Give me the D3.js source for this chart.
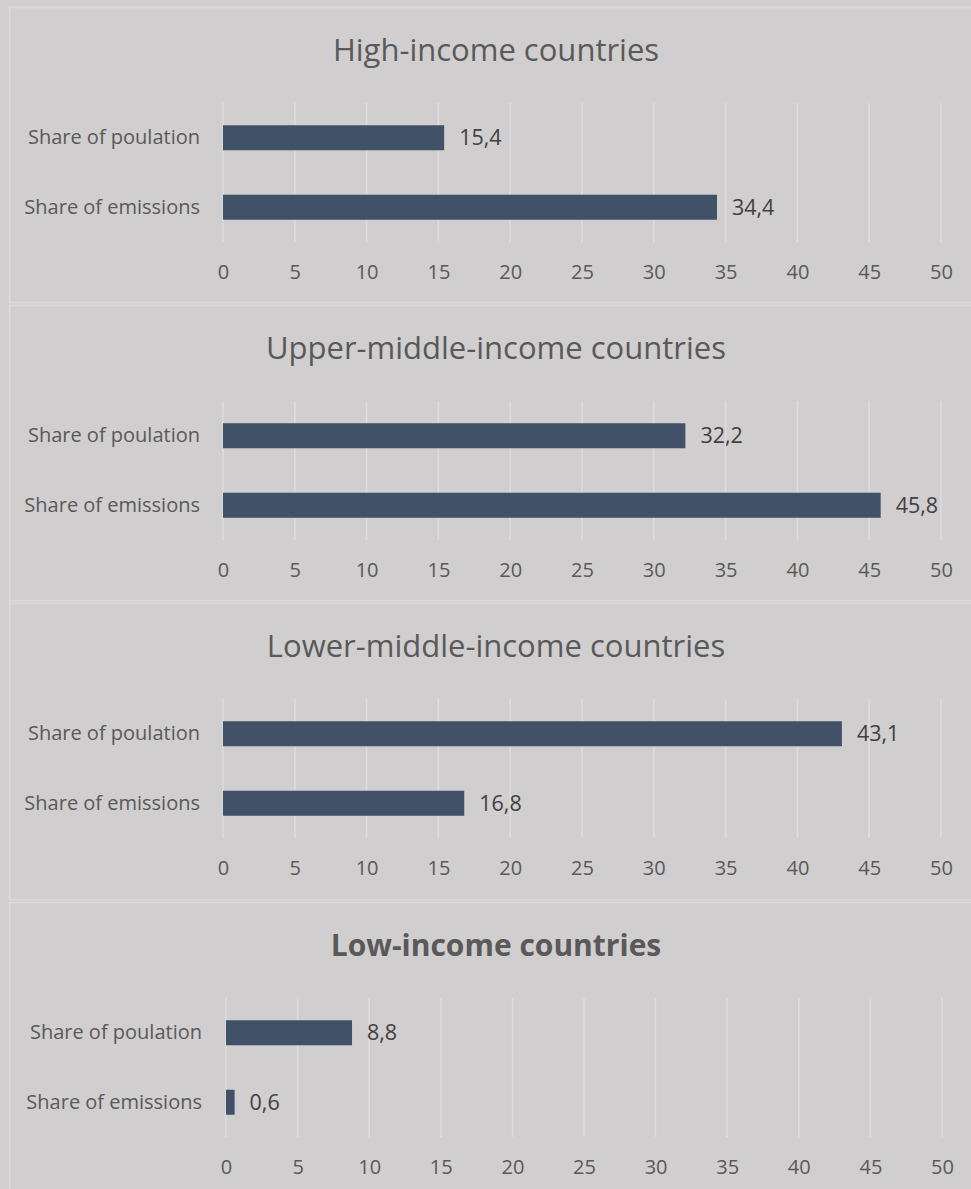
<!DOCTYPE html>
<html>
<head>
<meta charset="utf-8">
<script src="https://cdn.jsdelivr.net/npm/d3@7"></script>
<style>
  html, body { margin: 0; padding: 0; background: #d0cece; }
  svg { display: block; font-family: "Open Sans", "Noto Sans", sans-serif; }
</style>
</head>
<body>
<div id="graphic"></div>
<script>
// Data
var panelTitles = [
  'High-income countries',
  'Upper-middle-income countries',
  'Lower-middle-income countries',
  'Low-income countries'
];
var categories = ['Share of poulation', 'Share of emissions'];
var populationShare = [15.4, 32.2, 43.1, 8.8];
var emissionsShare = [34.4, 45.8, 16.8, 0.6];
var tickValues = [0, 5, 10, 15, 20, 25, 30, 35, 40, 45, 50];

var WIDTH = 971;
var HEIGHT = 1189;
var FONT = '"Open Sans", "Noto Sans", sans-serif';

var formatValue = function (v) {
  return d3.format('.1f')(v).replace('.', ',');
};

var renderGraphic = function (config) {
  var svg = d3.select(config.container)
    .append('svg')
    .attr('width', WIDTH)
    .attr('height', HEIGHT);

  svg.append('rect')
    .attr('width', WIDTH)
    .attr('height', HEIGHT)
    .attr('fill', '#d0cece');

  var panelTops = [7, 305, 603, 902];
  var panelBottoms = [302, 600.5, 899, 1200];

  panelTitles.forEach(function (title, i) {
    var top = panelTops[i];
    var isLast = i === panelTitles.length - 1;
    var g = svg.append('g');

    // panel border
    g.append('rect')
      .attr('x', 9.5)
      .attr('y', top + 0.5)
      .attr('width', 980)
      .attr('height', panelBottoms[i] - top)
      .attr('fill', 'none')
      .attr('stroke', '#dcdada')
      .attr('stroke-width', 1.5);

    var x = d3.scaleLinear()
      .domain([0, 50])
      .range(isLast ? [226, 942] : [223, 941]);

    var y = d3.scaleBand()
      .domain(categories)
      .range([top + 96, top + 235])
      .paddingInner(0.64)
      .paddingOuter(0.32);

    // title
    g.append('text')
      .attr('x', 496)
      .attr('y', top + 43)
      .attr('dy', '0.35em')
      .attr('text-anchor', 'middle')
      .attr('fill', '#595959')
      .attr('font-size', isLast ? 30 : 31)
      .attr('font-weight', isLast ? 'bold' : 'normal')
      .text(title);

    // gridlines
    g.selectAll('.grid')
      .data(tickValues)
      .enter().append('line')
      .attr('x1', function (d) { return x(d); })
      .attr('x2', function (d) { return x(d); })
      .attr('y1', top + 96)
      .attr('y2', top + 235)
      .attr('stroke', '#dedcdc')
      .attr('stroke-width', 1.5);

    // x axis
    var axis = g.append('g')
      .attr('transform', 'translate(0,' + (top + 265) + ')')
      .call(d3.axisBottom(x).tickValues(tickValues).tickSize(0).tickPadding(0));
    axis.select('.domain').remove();
    axis.selectAll('text')
      .attr('dy', '0.35em')
      .attr('fill', '#595959')
      .attr('font-size', 20)
      .attr('font-family', FONT);

    // y labels
    var yAxis = g.append('g')
      .attr('transform', 'translate(' + (isLast ? 202 : 200) + ',0)')
      .call(d3.axisLeft(y).tickSize(0).tickPadding(0));
    yAxis.select('.domain').remove();
    yAxis.selectAll('text')
      .attr('fill', '#595959')
      .attr('font-size', 20)
      .attr('font-family', FONT);

    var rows = [
      { cat: categories[0], value: populationShare[i] },
      { cat: categories[1], value: emissionsShare[i] }
    ];

    // bars
    g.selectAll('.bar')
      .data(rows)
      .enter().append('rect')
      .attr('x', x(0))
      .attr('y', function (d) { return y(d.cat); })
      .attr('width', function (d) { return x(d.value) - x(0); })
      .attr('height', y.bandwidth())
      .attr('fill', '#415268');

    // value labels
    g.selectAll('.value')
      .data(rows)
      .enter().append('text')
      .attr('x', function (d) { return x(d.value) + 15; })
      .attr('y', function (d) { return y(d.cat) + y.bandwidth() / 2; })
      .attr('dy', '0.35em')
      .attr('fill', '#404040')
      .attr('font-size', 21.5)
      .text(function (d) { return formatValue(d.value); });
  });
};

renderGraphic({ container: '#graphic' });
</script>
</body>
</html>
